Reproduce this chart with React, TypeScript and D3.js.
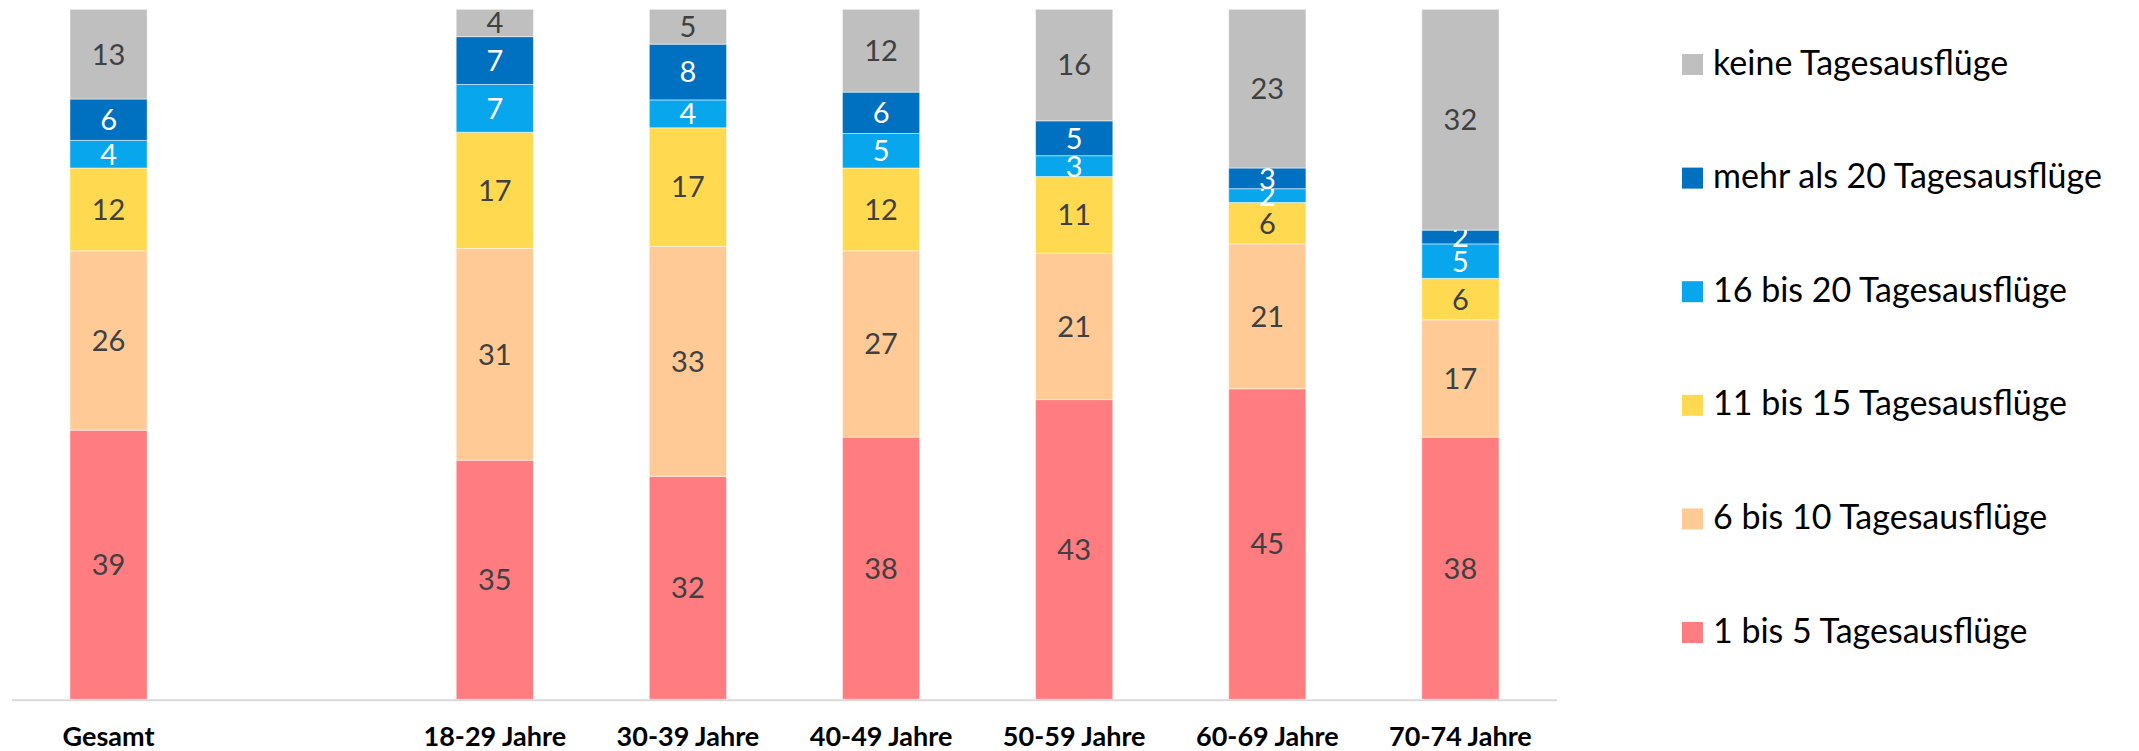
import React, { useRef, useEffect } from "react";
import * as d3 from "d3";

// categories on the x axis, the blank one is the gap after "Gesamt"
const categories = ["Gesamt", "", "18-29 Jahre", "30-39 Jahre", "40-49 Jahre", "50-59 Jahre", "60-69 Jahre", "70-74 Jahre"];

// series, bottom to top
const seriesNames = [
  "1 bis 5 Tagesausflüge",
  "6 bis 10 Tagesausflüge",
  "11 bis 15 Tagesausflüge",
  "16 bis 20 Tagesausflüge",
  "mehr als 20 Tagesausflüge",
  "keine Tagesausflüge",
];

const bis5 = [39, null, 35, 32, 38, 43, 45, 38];
const bis10 = [26, null, 31, 33, 27, 21, 21, 17];
const bis15 = [12, null, 17, 17, 12, 11, 6, 6];
const bis20 = [4, null, 7, 4, 5, 3, 2, 5];
const mehr20 = [6, null, 7, 8, 6, 5, 3, 2];
const keine = [13, null, 4, 5, 12, 16, 23, 32];

const seriesValues = [bis5, bis10, bis15, bis20, mehr20, keine];

const colors = ["#FF7C80", "#FFCA96", "#FFD94F", "#08A6EC", "#0070C0", "#BFBFBF"];
const labelColors = ["#404040", "#404040", "#404040", "#ffffff", "#ffffff", "#404040"];

const W = 2139;
const H = 751;
const FONT = "Lato, 'Noto Sans', sans-serif";

function App() {
  const svgRef = useRef<SVGSVGElement>(null);

  useEffect(() => {
    const svg = d3.select(svgRef.current);
    svg.selectAll("*").remove();

    const rows = categories.map((c, i) => {
      const r: any = { cat: c, idx: i };
      seriesNames.forEach((s, k) => (r[s] = seriesValues[k][i] ?? 0));
      return r;
    });

    const x = d3.scaleBand().domain(categories.map((c, i) => String(i))).range([12, 1557]).paddingInner(0.6).paddingOuter(0.3);
    const y = d3.scaleLinear().domain([0, 1]).range([699.3, 9.3]);

    const stack = d3.stack().keys(seriesNames).offset(d3.stackOffsetExpand);
    const stacked = stack(rows.filter((r) => r.cat !== ""));

    const g = svg.append("g");
    stacked.forEach((layer, k) => {
      const lg = g.append("g");
      lg.selectAll("rect")
        .data(layer)
        .join("rect")
        .attr("x", (d: any) => x(String(d.data.idx))!)
        .attr("width", x.bandwidth())
        .attr("y", (d) => y(d[1]))
        .attr("height", (d) => y(d[0]) - y(d[1]))
        .attr("fill", colors[k])
        .attr("stroke", "#ffffff")
        .attr("stroke-opacity", 0.5)
        .attr("stroke-width", 1);

      lg.selectAll("text")
        .data(layer)
        .join("text")
        .attr("x", (d: any) => x(String(d.data.idx))! + x.bandwidth() / 2)
        .attr("y", (d) => (y(d[0]) + y(d[1])) / 2)
        .attr("dy", "0.36em")
        .attr("text-anchor", "middle")
        .attr("font-family", FONT)
        .attr("font-size", 29)
        .attr("fill", labelColors[k])
        .text((d: any) => d.data[seriesNames[k]]);
    });

    // axis line
    svg.append("line")
      .attr("x1", x.range()[0])
      .attr("x2", x.range()[1])
      .attr("y1", y(0) + 1)
      .attr("y2", y(0) + 1)
      .attr("stroke", "#D9D9D9")
      .attr("stroke-width", 2);

    svg.append("g")
      .selectAll("text")
      .data(categories.map((c, i) => ({ c, i })))
      .join("text")
      .attr("x", (d) => x(String(d.i))! + x.bandwidth() / 2)
      .attr("y", 746)
      .attr("text-anchor", "middle")
      .attr("font-family", FONT)
      .attr("font-weight", "bold")
      .attr("font-size", 27)
      .attr("fill", "#000000")
      .text((d) => d.c);

    // legend, top entry is the top series
    const legendOrder = seriesNames.map((s, k) => ({ s, k })).reverse();
    const ly = d3.scalePoint().domain(legendOrder.map((d) => d.s)).range([64.5, 632.5]);
    const legend = svg.append("g");
    legend.selectAll("rect")
      .data(legendOrder)
      .join("rect")
      .attr("x", 1682)
      .attr("y", (d) => ly(d.s)! - 10.5)
      .attr("width", 21)
      .attr("height", 21)
      .attr("fill", (d) => colors[d.k]);
    legend.selectAll("text")
      .data(legendOrder)
      .join("text")
      .attr("x", 1713)
      .attr("y", (d) => ly(d.s)! + 10)
      .attr("font-family", FONT)
      .attr("font-size", 34)
      .attr("fill", "#000000")
      .text((d) => d.s);
  }, []);

  return (
    <div style={{ position: "absolute", left: 0, top: 0 }}>
      <svg ref={svgRef} width={W} height={H} style={{ display: "block", background: "#ffffff" }} />
    </div>
  );
}

export default App;
